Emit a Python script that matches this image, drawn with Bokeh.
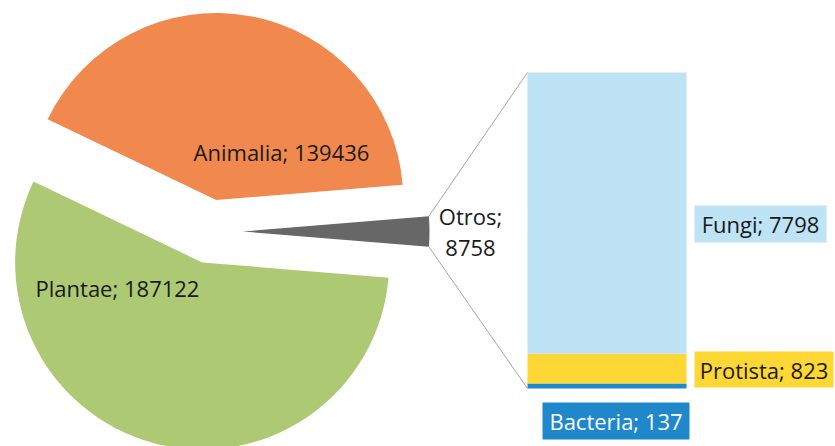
import math
from bokeh.plotting import figure
from bokeh.models import Range1d
from bokeh.core.properties import value
from bokeh.embed import file_html
from bokeh.resources import INLINE

# ---- data ----
pie_names = ["Otros", "Animalia", "Plantae"]
pie_values = [8758, 139436, 187122]
pie_colors = ["#676767", "#F1894F", "#ADC974"]

bar_names = ["Bacteria", "Protista", "Fungi"]
bar_values = [137, 823, 7798]
bar_colors = ["#1F88CA", "#FDD733", "#BEE3F5"]

# ---- layout (data units == pixels, y up; screen y = 446 - data y) ----
W, H = 835, 446
p = figure(width=W, height=H, output_backend="svg", toolbar_location=None,
           x_range=Range1d(0, W), y_range=Range1d(0, H),
           min_border=0, outline_line_color=None)
p.axis.visible = False
p.grid.visible = False
p.background_fill_color = "white"
p.border_fill_color = "white"

def Y(sy):
    return 446 - sy

FONT = value("Open Sans")
FS = "22px"

cx, cy = 210, Y(231)
R = 187
EXP = 32
total = sum(pie_values)
ang = [v / total * 2 * math.pi for v in pie_values]
starts, ends, xs, ys = [], [], [], []
a0 = -ang[0] / 2
for a in ang:
    s, e = a0, a0 + a
    mid = (s + e) / 2
    starts.append(s); ends.append(e)
    xs.append(cx + EXP * math.cos(mid)); ys.append(cy + EXP * math.sin(mid))
    a0 = e
p.wedge(x=xs, y=ys, radius=R, start_angle=starts, end_angle=ends,
        fill_color=pie_colors, line_color=None)

# pie labels
p.text(x=[281], y=[Y(151)], text=[f"{pie_names[1]}; {pie_values[1]}"],
       text_font=FONT, text_font_size=FS, text_align="center",
       text_baseline="middle", text_color="#1a1a1a")
p.text(x=[117], y=[Y(287)], text=[f"{pie_names[2]}; {pie_values[2]}"],
       text_font=FONT, text_font_size=FS, text_align="center",
       text_baseline="middle", text_color="#1a1a1a")
p.text(x=[470, 470], y=[Y(215), Y(247)], text=[f"{pie_names[0]};", f"{pie_values[0]}"],
       text_font=FONT, text_font_size=FS, text_align="center",
       text_baseline="middle", text_color="#1a1a1a")

# stacked bar
bx0, bx1 = 527, 686
btop, bbot = Y(72), Y(388)
scale = (btop - bbot) / sum(bar_values)
bottoms, tops = [], []
acc = bbot
for v in bar_values:
    bottoms.append(acc); acc += v * scale; tops.append(acc)
p.quad(left=bx0, right=bx1, bottom=bottoms, top=tops,
       fill_color=bar_colors, line_color=None)

# connector lines from Otros slice edge to bar
oa = ang[0] / 2
ox = xs[0] + R * math.cos(oa)
p.line(x=[ox, bx0], y=[ys[0] + R * math.sin(oa), btop], line_color="#A6A6A6", line_width=1)
p.line(x=[ox, bx0], y=[ys[0] - R * math.sin(oa), bbot], line_color="#A6A6A6", line_width=1)

# bar labels (boxed)
labels = [
    (bar_names[2], bar_values[2], 694, 826, 205, 242, bar_colors[2], "#1a1a1a"),
    (bar_names[1], bar_values[1], 694, 833, 351, 387, bar_colors[1], "#1a1a1a"),
    (bar_names[0], bar_values[0], 542, 689, 402, 439, bar_colors[0], "#FFFFFF"),
]
for name, val, l, r, t, b, fc, tc in labels:
    p.quad(left=[l], right=[r], top=[Y(t)], bottom=[Y(b)], fill_color=fc, line_color=None)
    p.text(x=[(l + r) / 2], y=[Y((t + b) / 2)], text=[f"{name}; {val}"],
           text_font=FONT, text_font_size=FS, text_align="center",
           text_baseline="middle", text_color=tc)

open("out.html", "w").write(file_html(p, INLINE))
